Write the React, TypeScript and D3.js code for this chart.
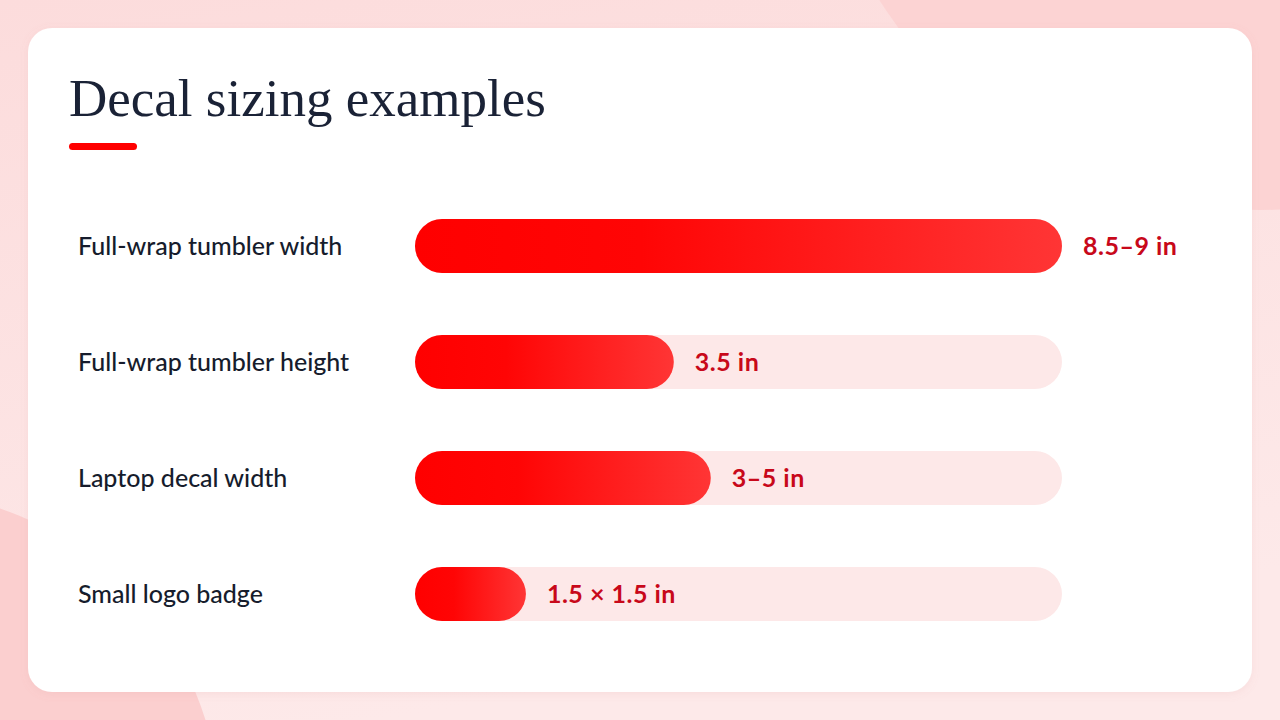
import React from "react";
import * as d3 from "d3";

const categories = [
  "Full-wrap tumbler width",
  "Full-wrap tumbler height",
  "Laptop decal width",
  "Small logo badge",
];
const values = [8.75, 3.5, 4, 1.5];
const valueLabels = ["8.5–9 in", "3.5 in", "3–5 in", "1.5 × 1.5 in"];
const title = "Decal sizing examples";

const W = 1280;
const H = 720;

export default function App() {
  const x = d3.scaleLinear().domain([0, d3.max(values) as number]).range([415, 1062]);
  const y = d3.scalePoint<string>().domain(categories).range([246, 594]);
  const barH = 54;
  const r = barH / 2;

  return (
    <svg
      width={W}
      height={H}
      viewBox={`0 0 ${W} ${H}`}
      style={{ position: "fixed", left: 0, top: 0, display: "block" }}
    >
      <defs>
        <linearGradient id="bg" x1="0" y1="0" x2="0.3" y2="1">
          <stop offset="0" stopColor="#fcdcdc" />
          <stop offset="1" stopColor="#fde9e9" />
        </linearGradient>
        <linearGradient id="barGrad" x1="0" y1="0" x2="1" y2="0">
          <stop offset="0" stopColor="#ff0000" />
          <stop offset="0.35" stopColor="#ff0505" />
          <stop offset="1" stopColor="#ff3535" />
        </linearGradient>
        <filter id="shadow" x="-5%" y="-5%" width="110%" height="110%">
          <feDropShadow dx="0" dy="2" stdDeviation="4" floodColor="#d08080" floodOpacity="0.12" />
        </filter>
      </defs>

      <rect x={0} y={0} width={W} height={H} fill="url(#bg)" />
      <circle cx={1260} cy={-240} r={450} fill="#fcd3d3" />
      <circle cx={-105} cy={816} r={325} fill="#fbcfcf" />

      <rect x={28} y={28} width={1224} height={664} rx={24} ry={24} fill="#ffffff" filter="url(#shadow)" />

      <text
        x={69}
        y={116}
        fontFamily="'Liberation Serif', 'DejaVu Serif', serif"
        fontSize={53}
        fill="#1a2236"
      >
        {title}
      </text>
      <rect x={69} y={143} width={68} height={7} rx={3.5} fill="#ff0000" />

      {categories.map((c, i) => {
        const cy = y(c) as number;
        const x0 = x(0);
        const x1 = x(values[i]);
        return (
          <g key={c}>
            <text
              x={78}
              y={cy}
              dy="0.35em"
              fontFamily="Lato, 'Noto Sans', sans-serif"
              fontWeight={500}
              fontSize={25}
              fill="#161c2c"
            >
              {c}
            </text>
            <rect
              x={x0}
              y={cy - r}
              width={x.range()[1] - x0}
              height={barH}
              rx={r}
              ry={r}
              fill="#fde8e8"
            />
            <rect
              x={x0}
              y={cy - r}
              width={x1 - x0}
              height={barH}
              rx={r}
              ry={r}
              fill="url(#barGrad)"
            />
            <text
              x={x1 + 21}
              y={cy}
              dy="0.35em"
              fontFamily="Lato, 'Noto Sans', sans-serif"
              fontWeight={700}
              fontSize={25}
              letterSpacing={0.5}
              fill="#c8081a"
            >
              {valueLabels[i]}
            </text>
          </g>
        );
      })}
    </svg>
  );
}
